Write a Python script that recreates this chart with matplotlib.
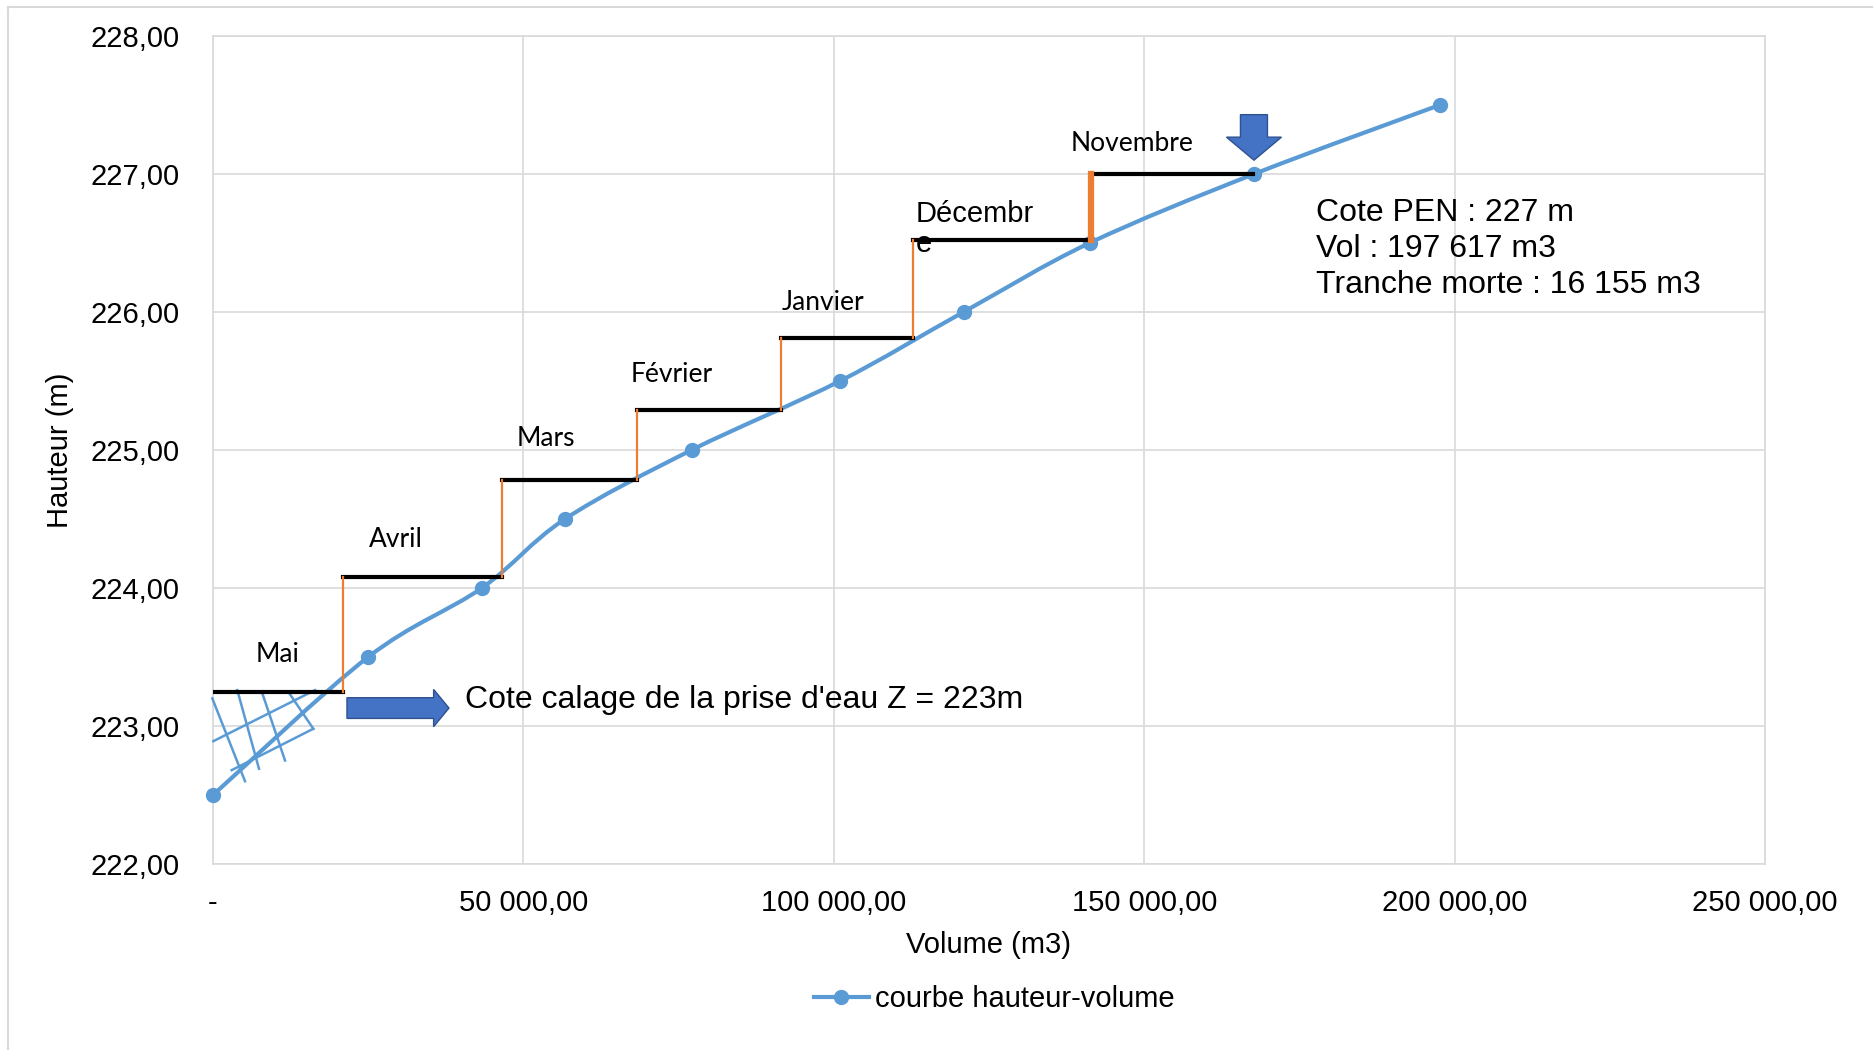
import matplotlib
matplotlib.use("Agg")
import matplotlib.pyplot as plt
from matplotlib.path import Path
from matplotlib.patches import PathPatch, FancyArrow
from matplotlib.lines import Line2D
import numpy as np

# courbe hauteur-volume
vol  = [0, 25000, 43300, 56700, 77100, 101000, 120900, 141200, 167700, 197617]
haut = [222.5, 223.5, 224.0, 224.5, 225.0, 225.5, 226.0, 226.5, 227.0, 227.5]

# tranches mensuelles (paliers)
mois     = ["Mai", "Avril", "Mars", "Février", "Janvier", "Décembre", "Novembre"]
bornes   = [0, 20940, 46550, 68300, 91450, 112800, 141430, 167600]
niveaux  = [223.25, 224.08, 224.78, 225.29, 225.81, 226.52, 227.0]
mois_x   = [10470, 29480, 53640, 73940, 98260, 113240, 148030]
mois_y   = [223.52, 224.35, 225.08, 225.55, 226.07, 226.60, 227.22]

# hachures tranche morte : (x0, y0, x1, y1)
hachures = [
    (-110, 223.20, 5155, 222.60),
    (3914, 223.26, 7410, 222.69),
    (7845, 223.25, 11600, 222.75),
    (12400, 223.23, 16160, 222.98),
    (50, 222.89, 16430, 223.26),
    (3010, 222.68, 16160, 222.98),
]

xticks = [0, 50000, 100000, 150000, 200000, 250000]
xlabels = ["-", "50 000,00", "100 000,00", "150 000,00", "200 000,00", "250 000,00"]
yticks = [222, 223, 224, 225, 226, 227, 228]
ylabels = ["222,00", "223,00", "224,00", "225,00", "226,00", "227,00", "228,00"]

BLUE = "#5b9bd5"
ORANGE = "#ed7d31"
ARROW = "#4472c4"
ARROW_EDGE = "#2f528f"
GRID = "#d9d9d9"
ARIAL = "Liberation Sans"
CALIBRI = "Lato"

plt.rcParams["font.family"] = ARIAL

fig = plt.figure(figsize=(18.74, 10.5), dpi=100)
ax = fig.add_axes([213/1874, 186/1050, 1552/1874, 828/1050])

# bordure du cadre
fig.add_artist(Line2D([8/1874, 8/1874], [0, 1 - 7/1050], transform=fig.transFigure, color=GRID, lw=1.5))
fig.add_artist(Line2D([8/1874, 1], [1 - 7/1050, 1 - 7/1050], transform=fig.transFigure, color=GRID, lw=1.5))

ax.set_xlim(0, 250000)
ax.set_ylim(222, 228)
ax.set_xticks(xticks)
ax.set_xticklabels(xlabels)
ax.set_yticks(yticks)
ax.set_yticklabels(ylabels)
ax.tick_params(axis="both", length=0, labelsize=21)
ax.tick_params(axis="x", pad=18)
ax.tick_params(axis="y", pad=24)
ax.grid(True, color=GRID, lw=1.2)
ax.set_axisbelow(True)
for s in ax.spines.values():
    s.set_color(GRID)
    s.set_linewidth(1.2)

ax.set_xlabel("Volume (m3)", fontsize=21, labelpad=10)
ax.set_ylabel("Hauteur (m)", fontsize=21, labelpad=12)

# courbe lissée (Catmull-Rom -> Bezier)
P = np.column_stack([vol, haut]).astype(float)
verts = [P[0]]
codes = [Path.MOVETO]
n = len(P)
for i in range(n - 1):
    p0 = P[i - 1] if i > 0 else P[i]
    p1 = P[i]
    p2 = P[i + 1]
    p3 = P[i + 2] if i + 2 < n else P[i + 1]
    verts += [p1 + (p2 - p0) / 6, p2 - (p3 - p1) / 6, p2]
    codes += [Path.CURVE4] * 3
ax.add_patch(PathPatch(Path(verts, codes), fill=False, edgecolor=BLUE, lw=3, zorder=4))
ax.plot(vol, haut, "o", color=BLUE, ms=10, zorder=5, clip_on=False)

# hachures
for x0, y0, x1, y1 in hachures:
    ax.plot([x0, x1], [y0, y1], color=BLUE, lw=1.8, zorder=3, clip_on=False)

# paliers
for i in range(len(niveaux)):
    ax.plot([bornes[i], bornes[i + 1]], [niveaux[i], niveaux[i]], color="black", lw=3, zorder=6)
for i in range(1, len(niveaux)):
    lw = 4.5 if i == len(niveaux) - 1 else 1.6
    ax.plot([bornes[i], bornes[i]], [niveaux[i - 1], niveaux[i]], color=ORANGE, lw=lw, zorder=6)

for m, x, y in zip(mois, mois_x, mois_y):
    if m == "Décembre":
        ax.text(x, y, "Décembr\ne", ha="left", va="center", fontsize=21,
                family=ARIAL, linespacing=1.1, zorder=7)
    else:
        ax.text(x, y, m, ha="center", va="center", fontsize=19, family=CALIBRI, zorder=7)

# flèches
ax.add_patch(FancyArrow(21580, 223.13, 16430 - 2470, 0, width=0.15, head_width=0.27,
                        head_length=2470, length_includes_head=False,
                        facecolor=ARROW, edgecolor=ARROW_EDGE, lw=1, zorder=7))
ax.add_patch(FancyArrow(167680, 227.43, 0, -0.33 + 0.167, width=4350, head_width=8860,
                        head_length=0.167, length_includes_head=False,
                        facecolor=ARROW, edgecolor=ARROW_EDGE, lw=1, zorder=7))

ax.text(40590, 223.19, "Cote calage de la prise d'eau Z = 223m", ha="left", va="center", fontsize=23)
ax.text(177670, 226.46, "Cote PEN : 227 m\nVol : 197 617 m3\nTranche morte : 16 155 m3",
        ha="left", va="center", fontsize=23, linespacing=1.26)

handle = Line2D([], [], color=BLUE, lw=3, marker="o", ms=10)
fig.legend([handle], ["courbe hauteur-volume"], loc="center", bbox_to_anchor=(994/1874, 1 - 999/1050),
           frameon=False, fontsize=21, handlelength=1.9, handletextpad=0.2)

fig.savefig("out.png", dpi=100)
